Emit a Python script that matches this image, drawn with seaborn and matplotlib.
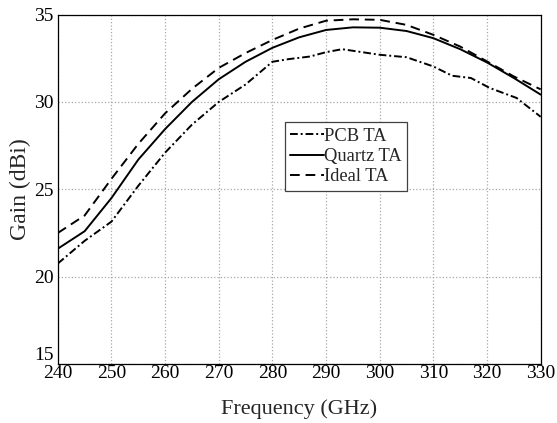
import matplotlib
matplotlib.use("Agg")
import matplotlib.pyplot as plt
import seaborn as sns
import pandas as pd

# frequency points (GHz) and gain (dBi)
freq_pcb = [240, 245, 250, 255, 260, 265, 270, 275, 280, 283, 287, 290, 293,
            300, 305, 310, 313.5, 317, 320.5, 325.5, 330]
gain_pcb = [20.75, 22.05, 23.15, 25.2, 27.1, 28.7, 30.0, 31.0, 32.3, 32.45,
            32.6, 32.85, 33.02, 32.7, 32.56, 32.03, 31.5, 31.37, 30.8, 30.23, 29.15]

freq_quartz = [240, 245, 250, 255, 260, 265, 270, 275, 280, 285, 290, 295,
               300, 305, 310, 315, 320, 325, 330]
gain_quartz = [21.6, 22.6, 24.5, 26.7, 28.45, 30.0, 31.3, 32.3, 33.1, 33.7,
               34.12, 34.27, 34.25, 34.06, 33.65, 33.02, 32.26, 31.37, 30.42]

freq_ideal = [240, 245, 250, 255, 260, 265, 270, 275, 280, 285, 290, 295,
              300, 305, 310, 315, 320, 325, 330]
gain_ideal = [22.5, 23.5, 25.6, 27.6, 29.35, 30.75, 31.95, 32.8, 33.55, 34.2,
              34.65, 34.73, 34.7, 34.41, 33.84, 33.17, 32.32, 31.46, 30.72]

labels = ["PCB TA", "Quartz TA", "Ideal TA"]

df = pd.concat([
    pd.DataFrame({"Frequency": freq_pcb, "Gain": gain_pcb, "Antenna": labels[0]}),
    pd.DataFrame({"Frequency": freq_quartz, "Gain": gain_quartz, "Antenna": labels[1]}),
    pd.DataFrame({"Frequency": freq_ideal, "Gain": gain_ideal, "Antenna": labels[2]}),
])

sns.set_style("white")
plt.rcParams["font.family"] = ["Liberation Serif", "DejaVu Serif"]

fig = plt.figure(figsize=(5.57, 4.23), dpi=100)
ax = fig.add_axes([0.1038, 0.1395, 0.8669, 0.826])

dashes = {labels[0]: (4, 1.5, 1, 1.5), labels[1]: "", labels[2]: (5, 3)}
sns.lineplot(data=df, x="Frequency", y="Gain", hue="Antenna", style="Antenna",
             palette=["black"] * 3, dashes=dashes, sort=False, estimator=None,
             linewidth=1.4, ax=ax)

ax.set_xlim(240, 330)
ax.set_ylim(15, 35)
ax.set_xticks(range(240, 331, 10))
ax.set_yticks(range(15, 36, 5))
ax.grid(True, color="#a8a8a8", linestyle=":", linewidth=0.9)
ax.tick_params(direction="in", length=4, labelsize=14, colors="black")
ax.tick_params(axis="x", pad=1)
ax.tick_params(axis="y", pad=3)
ax.get_yticklabels()[0].set_verticalalignment("bottom")
for s in ax.spines.values():
    s.set_color("black")
    s.set_linewidth(0.9)

ax.set_xlabel("Frequency (GHz)", fontsize=16, labelpad=12)
ax.set_ylabel("Gain (dBi)", fontsize=17, labelpad=2)

leg = ax.legend(loc="upper left", bbox_to_anchor=(0.47, 0.692), borderaxespad=0,
                fontsize=13.3, handlelength=1.8, handletextpad=0.0,
                labelspacing=0.18, borderpad=0.3, fancybox=False, framealpha=1)
leg.get_frame().set_edgecolor("#404040")
leg.get_frame().set_linewidth(0.9)
leg.set_title(None)

fig.savefig("out.png", dpi=100)
